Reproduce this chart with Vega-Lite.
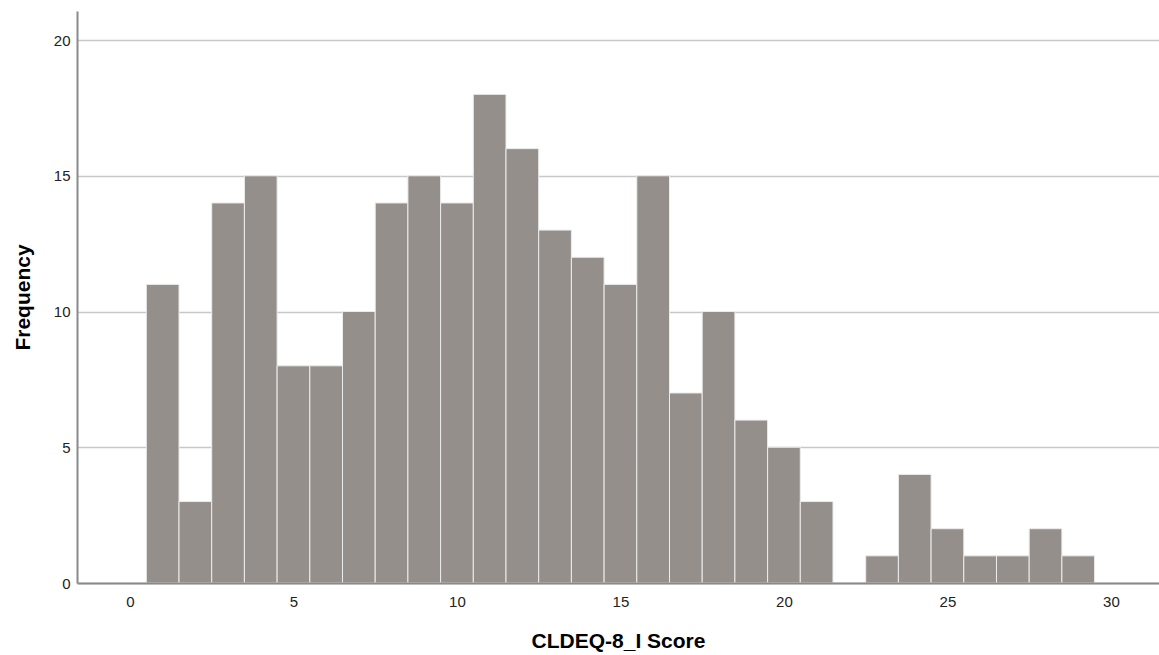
{
  "$schema": "https://vega.github.io/schema/vega-lite/v6.json",
  "autosize": "none",
  "width": 1082,
  "height": 572,
  "padding": {"left": 77, "top": 11, "right": 0, "bottom": 72},
  "background": "white",
  "config": {"view": {"stroke": null}, "font": "Liberation Sans"},
  "data": {"values": [
    {"score": 1, "lo": 0.5, "hi": 1.5, "freq": 11},
    {"score": 2, "lo": 1.5, "hi": 2.5, "freq": 3},
    {"score": 3, "lo": 2.5, "hi": 3.5, "freq": 14},
    {"score": 4, "lo": 3.5, "hi": 4.5, "freq": 15},
    {"score": 5, "lo": 4.5, "hi": 5.5, "freq": 8},
    {"score": 6, "lo": 5.5, "hi": 6.5, "freq": 8},
    {"score": 7, "lo": 6.5, "hi": 7.5, "freq": 10},
    {"score": 8, "lo": 7.5, "hi": 8.5, "freq": 14},
    {"score": 9, "lo": 8.5, "hi": 9.5, "freq": 15},
    {"score": 10, "lo": 9.5, "hi": 10.5, "freq": 14},
    {"score": 11, "lo": 10.5, "hi": 11.5, "freq": 18},
    {"score": 12, "lo": 11.5, "hi": 12.5, "freq": 16},
    {"score": 13, "lo": 12.5, "hi": 13.5, "freq": 13},
    {"score": 14, "lo": 13.5, "hi": 14.5, "freq": 12},
    {"score": 15, "lo": 14.5, "hi": 15.5, "freq": 11},
    {"score": 16, "lo": 15.5, "hi": 16.5, "freq": 15},
    {"score": 17, "lo": 16.5, "hi": 17.5, "freq": 7},
    {"score": 18, "lo": 17.5, "hi": 18.5, "freq": 10},
    {"score": 19, "lo": 18.5, "hi": 19.5, "freq": 6},
    {"score": 20, "lo": 19.5, "hi": 20.5, "freq": 5},
    {"score": 21, "lo": 20.5, "hi": 21.5, "freq": 3},
    {"score": 22, "lo": 21.5, "hi": 22.5, "freq": 0},
    {"score": 23, "lo": 22.5, "hi": 23.5, "freq": 1},
    {"score": 24, "lo": 23.5, "hi": 24.5, "freq": 4},
    {"score": 25, "lo": 24.5, "hi": 25.5, "freq": 2},
    {"score": 26, "lo": 25.5, "hi": 26.5, "freq": 1},
    {"score": 27, "lo": 26.5, "hi": 27.5, "freq": 1},
    {"score": 28, "lo": 27.5, "hi": 28.5, "freq": 2},
    {"score": 29, "lo": 28.5, "hi": 29.5, "freq": 1}
  ]},
  "mark": {"type": "bar", "fill": "#958f8c", "stroke": "#ececec", "strokeWidth": 1, "orient": "vertical"},
  "encoding": {
    "x": {
      "field": "lo", "type": "quantitative",
      "scale": {"domain": [-1.62, 31.47], "nice": false, "zero": false, "padding": 0},
      "axis": {
        "title": "CLDEQ-8_I Score",
        "titleFont": "Liberation Sans", "titleFontSize": 21, "titleFontWeight": "bold", "titleColor": "#000000",
        "titlePadding": 21,
        "values": [0, 5, 10, 15, 20, 25, 30],
        "labelFont": "Liberation Sans", "labelFontSize": 15, "labelColor": "#222222", "labelPadding": 11,
        "ticks": false, "grid": false, "zindex": 1,
        "domainColor": "#8a8a8a", "domainWidth": 2
      }
    },
    "x2": {"field": "hi"},
    "y": {
      "field": "freq", "type": "quantitative",
      "scale": {"domain": [0, 21.07], "nice": false, "padding": 0},
      "axis": {
        "title": "Frequency",
        "titleFont": "Liberation Sans", "titleFontSize": 21, "titleFontWeight": "bold", "titleColor": "#000000",
        "titlePadding": 20,
        "values": [0, 5, 10, 15, 20],
        "labelFont": "Liberation Sans", "labelFontSize": 15, "labelColor": "#222222", "labelPadding": 7,
        "ticks": false,
        "grid": true, "gridColor": "#c8c8c8", "gridWidth": 1.5,
        "domainColor": "#8a8a8a", "domainWidth": 2
      }
    },
    "y2": {"datum": 0}
  }
}
